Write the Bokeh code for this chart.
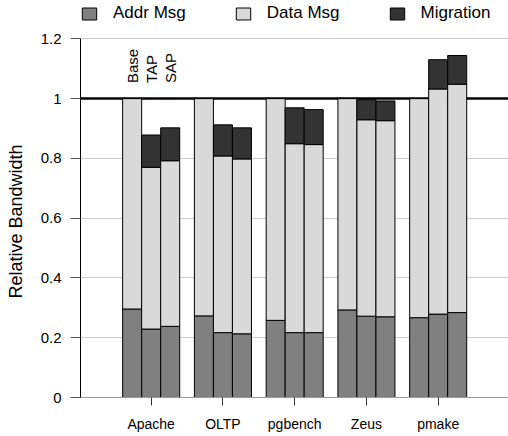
from bokeh.plotting import figure
from bokeh.models import (ColumnDataSource, Legend, LegendItem, Span,
                          FixedTicker, CustomJSTickFormatter)
from bokeh.embed import file_html
from bokeh.resources import INLINE
from bokeh.core.properties import value

# ---------------- data ----------------
categories = ["Apache", "OLTP", "pgbench", "Zeus", "pmake"]
variants = ["Base", "TAP", "SAP"]
series = ["Addr Msg", "Data Msg", "Migration"]

base_addr = [0.296, 0.273, 0.258, 0.293, 0.267]
base_data = [0.704, 0.727, 0.742, 0.707, 0.733]
base_mig = [0.0, 0.0, 0.0, 0.0, 0.0]

tap_addr = [0.229, 0.217, 0.217, 0.272, 0.279]
tap_data = [0.541, 0.591, 0.632, 0.657, 0.753]
tap_mig = [0.108, 0.104, 0.120, 0.067, 0.098]

sap_addr = [0.238, 0.213, 0.217, 0.270, 0.284]
sap_data = [0.554, 0.585, 0.629, 0.656, 0.764]
sap_mig = [0.110, 0.104, 0.117, 0.066, 0.096]

y_ticks = [0, 0.2, 0.4, 0.6, 0.8, 1.0, 1.2]
colors = ["#808080", "#d9d9d9", "#333333"]
FONT = "Liberation Sans"

variant_values = {
    "Base": (base_addr, base_data, base_mig),
    "TAP": (tap_addr, tap_data, tap_mig),
    "SAP": (sap_addr, sap_data, sap_mig),
}

BAR_W = 0.265
offsets = [-BAR_W, 0.0, BAR_W]
cat_pos = [i + 1 for i in range(len(categories))]

# frame reaches the top of the figure so the legend can sit inside it;
# the axis itself is bounded to 0..1.2
p = figure(width=508, height=436, output_backend="svg", toolbar_location=None,
           x_range=(0.015, 5.98), y_range=(0, 1.328),
           min_border_left=80, min_border_right=0, min_border_top=0,
           min_border_bottom=39)
p.outline_line_color = None
p.background_fill_color = "white"

# reference line at 1.0
p.add_layout(Span(location=1.0, dimension="width", line_color="black",
                  line_width=2.5, level="underlay"))

first_renderers = None
for v, off in zip(variants, offsets):
    a, d, m = variant_values[v]
    src = ColumnDataSource(dict(x=[c + off for c in cat_pos], addr=a, data=d, mig=m))
    rs = p.vbar_stack(["addr", "data", "mig"], x="x", width=BAR_W, source=src,
                      fill_color=colors, line_color="black", line_width=1)
    if first_renderers is None:
        first_renderers = rs

# rotated variant labels above first group
lab_src = ColumnDataSource(dict(x=[cat_pos[0] + o for o in offsets],
                                y=[1.052] * 3, t=variants))
p.text(x="x", y="y", text="t", source=lab_src, angle=1.5708,
       text_align="left", text_baseline="middle",
       text_font=value(FONT), text_font_size="15px", text_color="black")

# axes
p.yaxis.ticker = FixedTicker(ticks=y_ticks)
p.yaxis.formatter = CustomJSTickFormatter(
    code="return tick.toFixed(1).replace(/\\.0$/, '');")
p.yaxis.bounds = (0, 1.2)
p.yaxis.axis_label = "Relative Bandwidth" + "\u00a0" * 9
p.yaxis.axis_label_text_font = FONT
p.yaxis.axis_label_text_font_size = "18px"
p.yaxis.axis_label_text_font_style = "normal"
p.yaxis.axis_label_text_color = "black"
p.yaxis.axis_label_standoff = 12
p.yaxis.major_label_text_font = FONT
p.yaxis.major_label_text_font_size = "15px"
p.yaxis.major_label_text_color = "black"
p.yaxis.major_label_standoff = 9
p.yaxis.major_tick_in = 0
p.yaxis.major_tick_out = 10
p.yaxis.minor_tick_line_color = None
p.yaxis.axis_line_color = "black"
p.yaxis.major_tick_line_color = "#555555"

p.xaxis.ticker = FixedTicker(ticks=cat_pos)
p.xaxis.major_label_overrides = {c: n for c, n in zip(cat_pos, categories)}
p.xaxis.major_label_text_font = FONT
p.xaxis.major_label_text_font_size = "14px"
p.xaxis.major_label_text_color = "black"
p.xaxis.major_label_standoff = 10
p.xaxis.major_tick_in = 0
p.xaxis.major_tick_out = 8
p.xaxis.minor_tick_line_color = None
p.xaxis.axis_line_color = "#999999"
p.xaxis.major_tick_line_color = "#333333"

p.xgrid.grid_line_color = None
p.ygrid.ticker = FixedTicker(ticks=y_ticks)
p.ygrid.grid_line_color = "#cccccc"

legend = Legend(items=[LegendItem(label=s, renderers=[r])
                       for s, r in zip(series, first_renderers)],
                orientation="horizontal", location=(0, 374),
                glyph_width=18, glyph_height=15, label_standoff=15,
                spacing=48, padding=0, margin=0,
                border_line_color=None, background_fill_alpha=0,
                label_text_font=FONT, label_text_font_size="17px",
                label_text_color="black")
p.add_layout(legend)

open("out.html", "w").write(file_html(p, INLINE))
